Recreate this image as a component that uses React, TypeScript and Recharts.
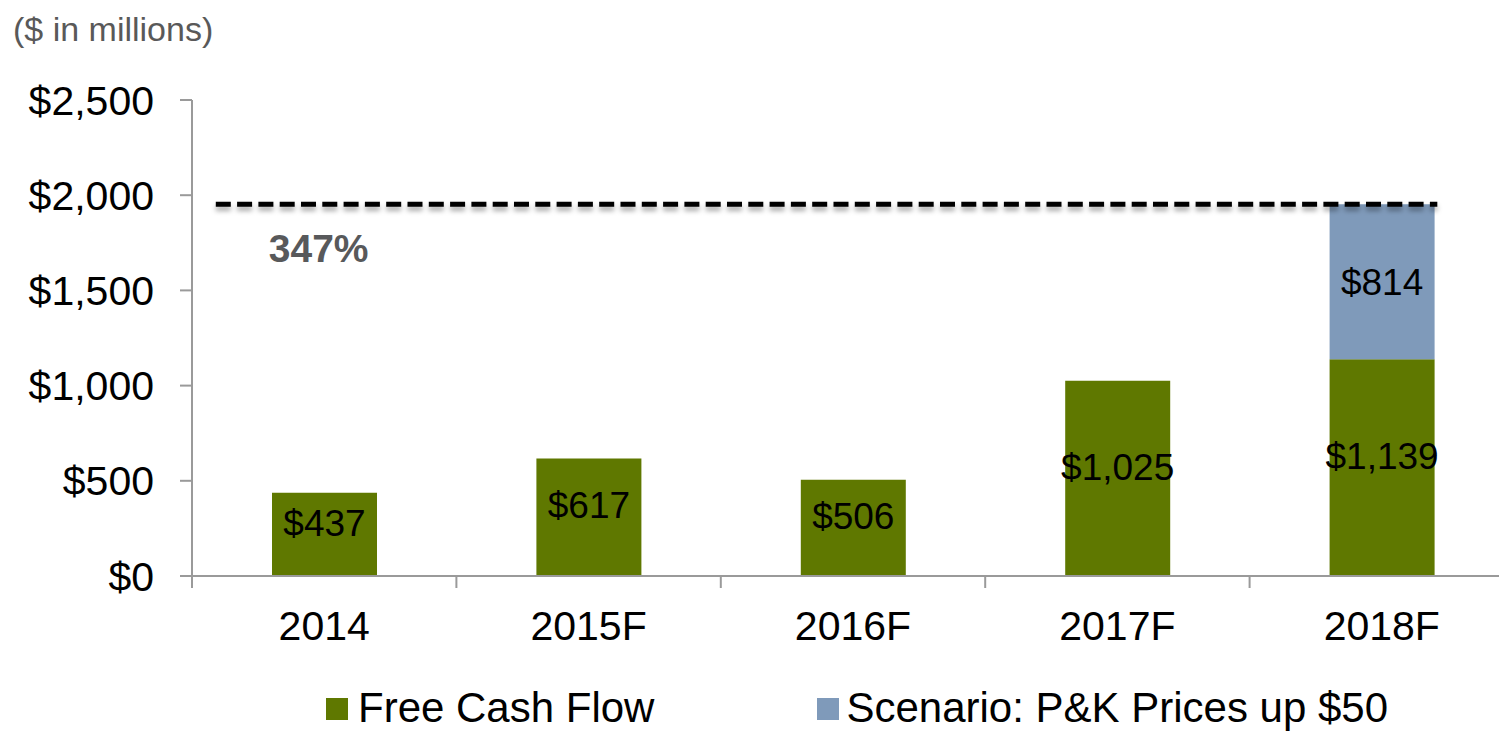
import React from 'react';
import { Bar, BarChart, LabelList, ReferenceLine, XAxis, YAxis } from 'recharts';

const years = ['2014', '2015F', '2016F', '2017F', '2018F'];
const freeCashFlow = [437, 617, 506, 1025, 1139];
const pkScenario = [null, null, null, null, 814];
const yTicks = [0, 500, 1000, 1500, 2000, 2500];
const seriesNames = ['Free Cash Flow', 'Scenario: P&K Prices up $50'];
const upliftLabel = '347%';

const COLORS = ['#5f7800', '#7f9aba'];
const AXIS_GRAY = '#9a9a9a';
const FONT = '"Liberation Sans", Arial, sans-serif';

// dashed target line: from a bit inside the first band to the right edge of the last bar (in band units)
const DASH_START = 0.09;
const DASH_END = 4.71;

const data = years.map((year, i) => ({
    year,
    fcf: freeCashFlow[i],
    scenario: pkScenario[i],
}));

// top of the 2018F stack
const target = freeCashFlow[4] + (pkScenario[4] ?? 0);

const money = (v: any) =>
    v == null ? '' : `$${Number(v).toLocaleString('en-US')}`;

// category tick: label centred on the band, tick marks on the band edges
const YearTick = (props: any) => {
    const { x, y, payload } = props;
    const half = payload?.offset ?? 132;
    const last = payload?.index === years.length - 1;
    return (
        <g>
            <line x1={x - half} y1={y} x2={x - half} y2={y + 12} stroke={AXIS_GRAY} strokeWidth={2} />
            {last && (
                <line x1={x + half} y1={y} x2={x + half} y2={y + 12} stroke={AXIS_GRAY} strokeWidth={2} />
            )}
            <text x={x} y={y + 64} textAnchor="middle" fill="#000" fontSize={41} fontFamily={FONT}>
                {payload.value}
            </text>
        </g>
    );
};

const DashedTarget = (props: any) => {
    const { x1, y1, x2 } = props;
    const bw = (x2 - x1) / years.length;
    const start = x1 + DASH_START * bw;
    const end = x1 + DASH_END * bw;
    return (
        <g>
            <defs>
                <filter
                    id="dashShadow"
                    filterUnits="userSpaceOnUse"
                    x="0"
                    y="0"
                    width="2000"
                    height="800"
                >
                    <feGaussianBlur stdDeviation="2.5" />
                </filter>
            </defs>
            <line
                x1={start}
                y1={y1 + 4}
                x2={end}
                y2={y1 + 4}
                stroke="#000"
                strokeOpacity={0.35}
                strokeWidth={5}
                strokeDasharray="15 6.3"
                filter="url(#dashShadow)"
            />
            <line
                x1={start}
                y1={y1}
                x2={end}
                y2={y1}
                stroke="#000"
                strokeWidth={5}
                strokeDasharray="15 6.3"
            />
            <text
                x={start + 53}
                y={y1 + 58}
                fill="#58595b"
                fontSize={39}
                fontWeight="bold"
                fontFamily={FONT}
            >
                {upliftLabel}
            </text>
        </g>
    );
};

const App = () => {
    return (
        <div
            style={{
                position: 'absolute',
                left: 0,
                top: 0,
                width: 1499,
                height: 731,
                overflow: 'hidden',
                background: '#fff',
                fontFamily: FONT,
            }}
        >
            <div
                style={{
                    position: 'absolute',
                    left: 13,
                    top: 12,
                    fontSize: 34,
                    lineHeight: '34px',
                    color: '#595959',
                    whiteSpace: 'nowrap',
                }}
            >
                ($ in millions)
            </div>

            <BarChart
                width={1530}
                height={731}
                data={data}
                margin={{ top: 100, right: 16, bottom: 95, left: 0 }}
            >
                <XAxis
                    dataKey="year"
                    height={60}
                    axisLine={{ stroke: AXIS_GRAY, strokeWidth: 2 }}
                    tickLine={false}
                    tickSize={0}
                    tickMargin={0}
                    tick={<YearTick />}
                    interval={0}
                />
                <YAxis
                    width={192}
                    domain={[0, 2500]}
                    ticks={yTicks}
                    tickFormatter={money}
                    axisLine={{ stroke: AXIS_GRAY, strokeWidth: 2 }}
                    tickLine={{ stroke: AXIS_GRAY, strokeWidth: 2 }}
                    tickSize={12}
                    tickMargin={26}
                    tick={{ fill: '#000', fontSize: 41 }}
                />
                <Bar
                    dataKey="fcf"
                    name={seriesNames[0]}
                    stackId="a"
                    fill={COLORS[0]}
                    barSize={105}
                    isAnimationActive={false}
                >
                    <LabelList
                        dataKey="fcf"
                        position="center"
                        formatter={money}
                        fill="#000"
                        fontSize={37}
                        dy={-12}
                    />
                </Bar>
                <Bar
                    dataKey="scenario"
                    name={seriesNames[1]}
                    stackId="a"
                    fill={COLORS[1]}
                    barSize={105}
                    isAnimationActive={false}
                >
                    <LabelList
                        dataKey="scenario"
                        position="center"
                        formatter={money}
                        fill="#000"
                        fontSize={37}
                    />
                </Bar>
                <ReferenceLine y={target} shape={DashedTarget} ifOverflow="visible" />
            </BarChart>

            <div
                style={{
                    position: 'absolute',
                    left: 326,
                    top: 687,
                    display: 'flex',
                    alignItems: 'flex-start',
                    fontSize: 42,
                    lineHeight: '42px',
                    color: '#000',
                    whiteSpace: 'nowrap',
                }}
            >
                {seriesNames.map((name, i) => (
                    <React.Fragment key={`legend-${i}`}>
                        <span
                            style={{
                                display: 'inline-block',
                                width: 22,
                                height: 22,
                                marginTop: 11,
                                marginLeft: i === 0 ? 0 : 163,
                                marginRight: i === 0 ? 10 : 7,
                                background: COLORS[i],
                            }}
                        />
                        <span>{name}</span>
                    </React.Fragment>
                ))}
            </div>
        </div>
    );
};

export default App;
